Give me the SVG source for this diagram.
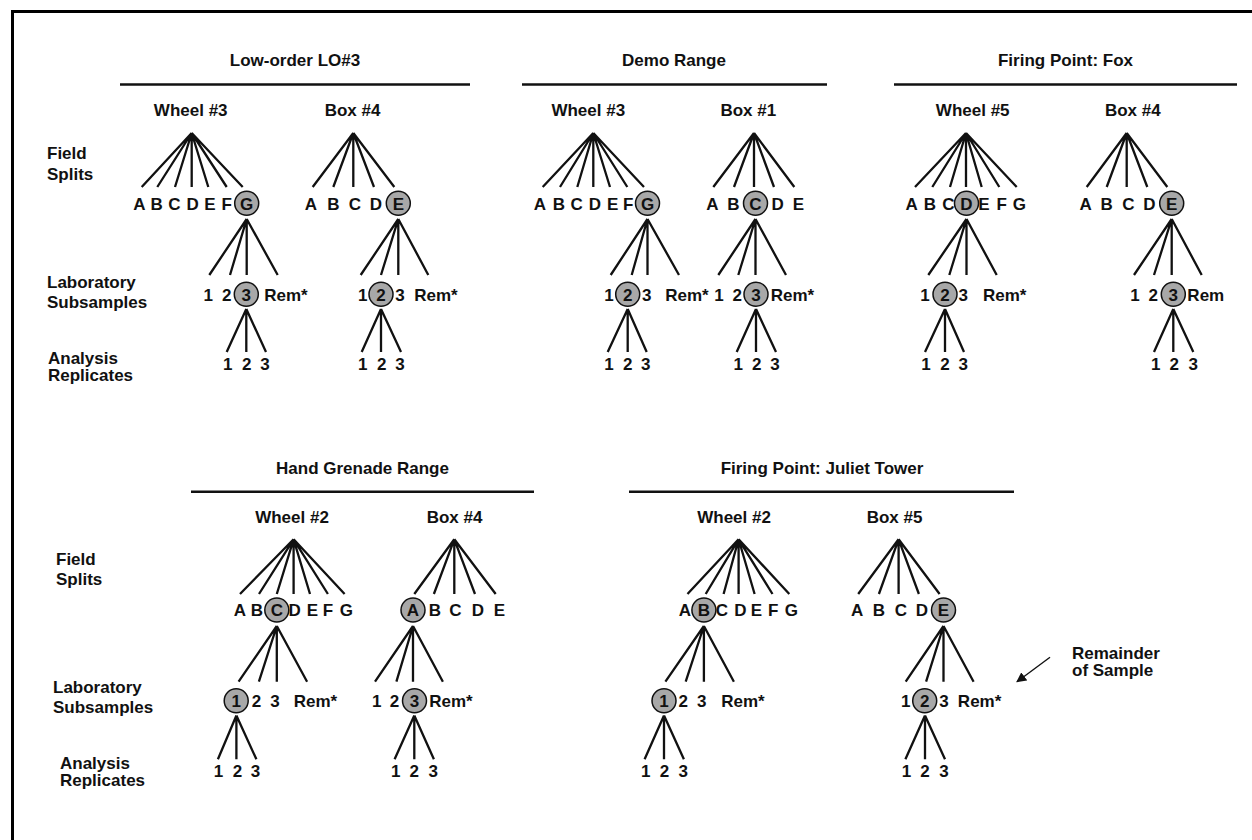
<svg xmlns="http://www.w3.org/2000/svg" width="1252" height="840" viewBox="0 0 1252 840">
<style>
.t{font-family:"Liberation Sans",Arial,Helvetica,sans-serif;font-weight:bold;font-size:17px;fill:#111}
.m{text-anchor:middle}
.c{fill:#a8a8a8;stroke:#111;stroke-width:1.5}
.ln{stroke:#111;stroke-width:2.3;fill:none}
.hd{stroke:#111;stroke-width:2.6;fill:none}
</style>
<defs>
<marker id="ah" viewBox="0 0 10 10" refX="9" refY="5" markerWidth="10" markerHeight="10" markerUnits="userSpaceOnUse" orient="auto">
<path d="M0,0 L10,5 L0,10 z" fill="#111"/>
</marker>
</defs>
<rect width="1252" height="840" fill="#fff"/>
<path d="M12.5 840 V11.5 H1252" stroke="#000" stroke-width="3" fill="none"/>

<g id="row-labels">
<text class="t" x="47" y="159">Field</text>
<text class="t" x="47" y="180">Splits</text>
<text class="t" x="47" y="288">Laboratory</text>
<text class="t" x="47" y="308">Subsamples</text>
<text class="t" x="48" y="364">Analysis</text>
<text class="t" x="48" y="381">Replicates</text>
<text class="t" x="56" y="565">Field</text>
<text class="t" x="56" y="585">Splits</text>
<text class="t" x="53" y="693">Laboratory</text>
<text class="t" x="53" y="713">Subsamples</text>
<text class="t" x="60" y="769">Analysis</text>
<text class="t" x="60" y="786">Replicates</text>
</g>

<g id="headers">
<text class="t m" x="295" y="66">Low-order LO#3</text>
<path class="hd" d="M120 84.5 H470"/>
<text class="t m" x="674" y="66">Demo Range</text>
<path class="hd" d="M522 84.5 H827"/>
<text class="t m" x="1065.5" y="66">Firing Point: Fox</text>
<path class="hd" d="M894 84.5 H1237"/>
<text class="t m" x="362.5" y="474">Hand Grenade Range</text>
<path class="hd" d="M191 491.7 H534"/>
<text class="t m" x="822" y="474">Firing Point: Juliet Tower</text>
<path class="hd" d="M629 491.7 H1014"/>
</g>

<g id="connectors" class="ln">
<!-- T1 -->
<path d="M191.7 133 L141.7 187 M191.7 133 L157.3 187 M191.7 133 L175 187 M191.7 133 V187 M191.7 133 L208.3 187 M191.7 133 L226.7 187 M191.7 133 L242.7 187"/>
<path d="M246.7 219 L209.3 275 M246.7 219 L230 275 M246.7 219 V275 M246.7 219 L277.7 275"/>
<path d="M246.3 309 L226.7 352 M246.3 309 V352 M246.3 309 L266 352"/>
<!-- T2 -->
<path d="M353.3 133 L312.7 187 M353.3 133 L333.3 187 M353.3 133 V187 M353.3 133 L374 187 M353.3 133 L394.3 187"/>
<path d="M398.3 219 L360.7 275 M398.3 219 L381 275 M398.3 219 V275 M398.3 219 L428.3 275"/>
<path d="M381 309 L361.7 352 M381 309 V352 M381 309 L401 352"/>
<!-- T3 -->
<path d="M593.3 133 L542.7 187 M593.3 133 L560 187 M593.3 133 L577.3 187 M593.3 133 V187 M593.3 133 L610 187 M593.3 133 L627.3 187 M593.3 133 L644 187"/>
<path d="M647.5 219 L610.7 275 M647.5 219 L631.7 275 M647.5 219 V275 M647.5 219 L679 275"/>
<path d="M627.7 309 L607.7 352 M627.7 309 V352 M627.7 309 L646.7 352"/>
<!-- T4 -->
<path d="M754 133 L713.3 187 M754 133 L734 187 M754 133 V187 M754 133 L774 187 M754 133 L794.3 187"/>
<path d="M755.5 219 L718.3 275 M755.5 219 L738.3 275 M755.5 219 V275 M755.5 219 L786 275"/>
<path d="M756 309 L736.7 352 M756 309 V352 M756 309 L776 352"/>
<!-- T5 -->
<path d="M966 133 L915 187 M966 133 L932.3 187 M966 133 L950 187 M966 133 V187 M966 133 L981.7 187 M966 133 L999.3 187 M966 133 L1016.7 187"/>
<path d="M966.5 219 L928.3 275 M966.5 219 L949.3 275 M966.5 219 V275 M966.5 219 L996.7 275"/>
<path d="M945 309 L925 352 M945 309 V352 M945 309 L964 352"/>
<!-- T6 -->
<path d="M1126.7 133 L1086.7 187 M1126.7 133 L1106.7 187 M1126.7 133 V187 M1126.7 133 L1147.3 187 M1126.7 133 L1167.3 187"/>
<path d="M1171.7 219 L1134 275 M1171.7 219 L1154 275 M1171.7 219 V275 M1171.7 219 L1201.7 275"/>
<path d="M1173.3 309 L1154 352 M1173.3 309 V352 M1173.3 309 L1193.3 352"/>
<!-- T7 -->
<path d="M293.6 539.3 L240 594 M293.6 539.3 L259 594 M293.6 539.3 L276.8 594 M293.6 539.3 V594 M293.6 539.3 L310 594 M293.6 539.3 L327.9 594 M293.6 539.3 L344.6 594"/>
<path d="M276.8 626 L238.6 681.7 M276.8 626 L258.9 681.7 M276.8 626 V681.7 M276.8 626 L307.1 681.7"/>
<path d="M236.4 715.5 L217.9 759.3 M236.4 715.5 V759.3 M236.4 715.5 L256.4 759.3"/>
<!-- T8 -->
<path d="M454.3 539.3 L414.3 594 M454.3 539.3 L433.9 594 M454.3 539.3 V594 M454.3 539.3 L475 594 M454.3 539.3 L495.7 594"/>
<path d="M413 626 L375 681.7 M413 626 L396.4 681.7 M413 626 V681.7 M413 626 L442.9 681.7"/>
<path d="M414.3 715.5 L394.6 759.3 M414.3 715.5 V759.3 M414.3 715.5 L433.9 759.3"/>
<!-- T9 -->
<path d="M738.6 539.3 L687.5 594 M738.6 539.3 L705.7 594 M738.6 539.3 L723.6 594 M738.6 539.3 V594 M738.6 539.3 L754.6 594 M738.6 539.3 L772.5 594 M738.6 539.3 L789.3 594"/>
<path d="M703.9 626 L665.4 681.7 M703.9 626 L685.7 681.7 M703.9 626 V681.7 M703.9 626 L733.9 681.7"/>
<path d="M664 715.5 L644.6 759.3 M664 715.5 V759.3 M664 715.5 L683.9 759.3"/>
<!-- T10 -->
<path d="M898.6 539.3 L858.2 594 M898.6 539.3 L878.9 594 M898.6 539.3 V594 M898.6 539.3 L918.9 594 M898.6 539.3 L939.6 594"/>
<path d="M943.5 626 L905.7 681.7 M943.5 626 L926.1 681.7 M943.5 626 V681.7 M943.5 626 L973.6 681.7"/>
<path d="M925 715.5 L905.4 759.3 M925 715.5 V759.3 M925 715.5 L945 759.3"/>
<!-- annotation arrow -->
<path d="M1050 657.3 L1017 681.7" stroke-width="1.4" marker-end="url(#ah)"/>
</g>

<g id="lo3-wheel3">
<text class="t m" x="190.7" y="116">Wheel #3</text>
<text class="t m" x="139.3" y="209.5">A</text><text class="t m" x="156.7" y="209.5">B</text><text class="t m" x="174.3" y="209.5">C</text><text class="t m" x="192.7" y="209.5">D</text><text class="t m" x="210" y="209.5">E</text><text class="t m" x="226.7" y="209.5">F</text>
<circle class="c" cx="246.7" cy="203.3" r="12"/><text class="t m" x="246.7" y="209.5">G</text>
<text class="t m" x="208.3" y="300.5">1</text><text class="t m" x="226.7" y="300.5">2</text>
<circle class="c" cx="246.3" cy="294.3" r="12"/><text class="t m" x="246.3" y="300.5">3</text>
<text class="t m" x="286" y="300.5">Rem*</text>
<text class="t m" x="227.7" y="369.5">1</text><text class="t m" x="246.7" y="369.5">2</text><text class="t m" x="265" y="369.5">3</text>
</g>

<g id="lo3-box4">
<text class="t m" x="352.5" y="116">Box #4</text>
<text class="t m" x="311" y="209.5">A</text><text class="t m" x="333.3" y="209.5">B</text><text class="t m" x="355" y="209.5">C</text><text class="t m" x="376" y="209.5">D</text>
<circle class="c" cx="398.3" cy="203.3" r="12"/><text class="t m" x="398.3" y="209.5">E</text>
<text class="t m" x="362.7" y="300.5">1</text>
<circle class="c" cx="381" cy="294.3" r="12"/><text class="t m" x="381" y="300.5">2</text>
<text class="t m" x="400" y="300.5">3</text><text class="t m" x="436" y="300.5">Rem*</text>
<text class="t m" x="362.7" y="369.5">1</text><text class="t m" x="381.7" y="369.5">2</text><text class="t m" x="400" y="369.5">3</text>
</g>

<g id="demo-wheel3">
<text class="t m" x="588.3" y="116">Wheel #3</text>
<text class="t m" x="540" y="209.5">A</text><text class="t m" x="559" y="209.5">B</text><text class="t m" x="576.7" y="209.5">C</text><text class="t m" x="595" y="209.5">D</text><text class="t m" x="612.7" y="209.5">E</text><text class="t m" x="628.3" y="209.5">F</text>
<circle class="c" cx="647.5" cy="203.3" r="12"/><text class="t m" x="647.5" y="209.5">G</text>
<text class="t m" x="609" y="300.5">1</text>
<circle class="c" cx="627.7" cy="294.3" r="12"/><text class="t m" x="627.7" y="300.5">2</text>
<text class="t m" x="646.7" y="300.5">3</text><text class="t m" x="687" y="300.5">Rem*</text>
<text class="t m" x="609" y="369.5">1</text><text class="t m" x="627.7" y="369.5">2</text><text class="t m" x="645.7" y="369.5">3</text>
</g>

<g id="demo-box1">
<text class="t m" x="748.3" y="116">Box #1</text>
<text class="t m" x="712.3" y="209.5">A</text><text class="t m" x="733.3" y="209.5">B</text>
<circle class="c" cx="755.5" cy="203.3" r="12"/><text class="t m" x="755.5" y="209.5">C</text>
<text class="t m" x="777.7" y="209.5">D</text><text class="t m" x="798.3" y="209.5">E</text>
<text class="t m" x="719" y="300.5">1</text><text class="t m" x="737.3" y="300.5">2</text>
<circle class="c" cx="756" cy="294.3" r="12"/><text class="t m" x="756" y="300.5">3</text>
<text class="t m" x="792.5" y="300.5">Rem*</text>
<text class="t m" x="738.3" y="369.5">1</text><text class="t m" x="756.7" y="369.5">2</text><text class="t m" x="775" y="369.5">3</text>
</g>

<g id="fox-wheel5">
<text class="t m" x="972.7" y="116">Wheel #5</text>
<text class="t m" x="911.7" y="209.5">A</text><text class="t m" x="930" y="209.5">B</text><text class="t m" x="948.3" y="209.5">C</text>
<circle class="c" cx="966.5" cy="203.3" r="12"/><text class="t m" x="966.5" y="209.5">D</text>
<text class="t m" x="984" y="209.5">E</text><text class="t m" x="1001.7" y="209.5">F</text><text class="t m" x="1019.3" y="209.5">G</text>
<text class="t m" x="925" y="300.5">1</text>
<circle class="c" cx="945" cy="294.3" r="12"/><text class="t m" x="945" y="300.5">2</text>
<text class="t m" x="963.3" y="300.5">3</text><text class="t m" x="1004.7" y="300.5">Rem*</text>
<text class="t m" x="926" y="369.5">1</text><text class="t m" x="945" y="369.5">2</text><text class="t m" x="963.3" y="369.5">3</text>
</g>

<g id="fox-box4">
<text class="t m" x="1132.8" y="116">Box #4</text>
<text class="t m" x="1085.7" y="209.5">A</text><text class="t m" x="1106.7" y="209.5">B</text><text class="t m" x="1128.3" y="209.5">C</text><text class="t m" x="1149.3" y="209.5">D</text>
<circle class="c" cx="1171.7" cy="203.3" r="12"/><text class="t m" x="1171.7" y="209.5">E</text>
<text class="t m" x="1135" y="300.5">1</text><text class="t m" x="1153.3" y="300.5">2</text>
<circle class="c" cx="1173.3" cy="294.3" r="12"/><text class="t m" x="1173.3" y="300.5">3</text>
<text class="t m" x="1205.8" y="300.5">Rem</text>
<text class="t m" x="1155.7" y="369.5">1</text><text class="t m" x="1174.3" y="369.5">2</text><text class="t m" x="1193.3" y="369.5">3</text>
</g>

<g id="hg-wheel2">
<text class="t m" x="292" y="522.7">Wheel #2</text>
<text class="t m" x="240" y="616.2">A</text><text class="t m" x="257" y="616.2">B</text>
<circle class="c" cx="276.8" cy="610" r="12"/><text class="t m" x="276.8" y="616.2">C</text>
<text class="t m" x="294.6" y="616.2">D</text><text class="t m" x="312.5" y="616.2">E</text><text class="t m" x="327.9" y="616.2">F</text><text class="t m" x="346.4" y="616.2">G</text>
<circle class="c" cx="236.2" cy="700.7" r="12"/><text class="t m" x="236.2" y="706.9">1</text>
<text class="t m" x="256.4" y="706.9">2</text><text class="t m" x="275" y="706.9">3</text><text class="t m" x="315.5" y="706.9">Rem*</text>
<text class="t m" x="218.6" y="776.9">1</text><text class="t m" x="237.5" y="776.9">2</text><text class="t m" x="255.4" y="776.9">3</text>
</g>

<g id="hg-box4">
<text class="t m" x="454.5" y="522.7">Box #4</text>
<circle class="c" cx="413" cy="610" r="12"/><text class="t m" x="413" y="616.2">A</text>
<text class="t m" x="435" y="616.2">B</text><text class="t m" x="455.4" y="616.2">C</text><text class="t m" x="477.9" y="616.2">D</text><text class="t m" x="499.3" y="616.2">E</text>
<text class="t m" x="376.8" y="706.9">1</text><text class="t m" x="394.6" y="706.9">2</text>
<circle class="c" cx="414.5" cy="700.7" r="12"/><text class="t m" x="414.5" y="706.9">3</text>
<text class="t m" x="451" y="706.9">Rem*</text>
<text class="t m" x="395.7" y="776.9">1</text><text class="t m" x="414.3" y="776.9">2</text><text class="t m" x="433.2" y="776.9">3</text>
</g>

<g id="jt-wheel2">
<text class="t m" x="734.1" y="522.7">Wheel #2</text>
<text class="t m" x="685" y="616.2">A</text>
<circle class="c" cx="703.9" cy="610" r="12"/><text class="t m" x="703.9" y="616.2">B</text>
<text class="t m" x="721.8" y="616.2">C</text><text class="t m" x="740.4" y="616.2">D</text><text class="t m" x="756.4" y="616.2">E</text><text class="t m" x="773.2" y="616.2">F</text><text class="t m" x="791.4" y="616.2">G</text>
<circle class="c" cx="664" cy="700.7" r="12"/><text class="t m" x="664" y="706.9">1</text>
<text class="t m" x="683.2" y="706.9">2</text><text class="t m" x="701.8" y="706.9">3</text><text class="t m" x="742.9" y="706.9">Rem*</text>
<text class="t m" x="645.7" y="776.9">1</text><text class="t m" x="664.6" y="776.9">2</text><text class="t m" x="683.2" y="776.9">3</text>
</g>

<g id="jt-box5">
<text class="t m" x="894.5" y="522.7">Box #5</text>
<text class="t m" x="857.1" y="616.2">A</text><text class="t m" x="878.9" y="616.2">B</text><text class="t m" x="901" y="616.2">C</text><text class="t m" x="921.8" y="616.2">D</text>
<circle class="c" cx="943.5" cy="610" r="12"/><text class="t m" x="943.5" y="616.2">E</text>
<text class="t m" x="905.7" y="706.9">1</text>
<circle class="c" cx="924.7" cy="700.7" r="12"/><text class="t m" x="924.7" y="706.9">2</text>
<text class="t m" x="943.9" y="706.9">3</text><text class="t m" x="979.6" y="706.9">Rem*</text>
<text class="t m" x="906.4" y="776.9">1</text><text class="t m" x="925" y="776.9">2</text><text class="t m" x="943.9" y="776.9">3</text>
</g>

<g id="remainder-note">
<text class="t" x="1072" y="659">Remainder</text>
<text class="t" x="1072" y="676">of Sample</text>
</g>
</svg>
